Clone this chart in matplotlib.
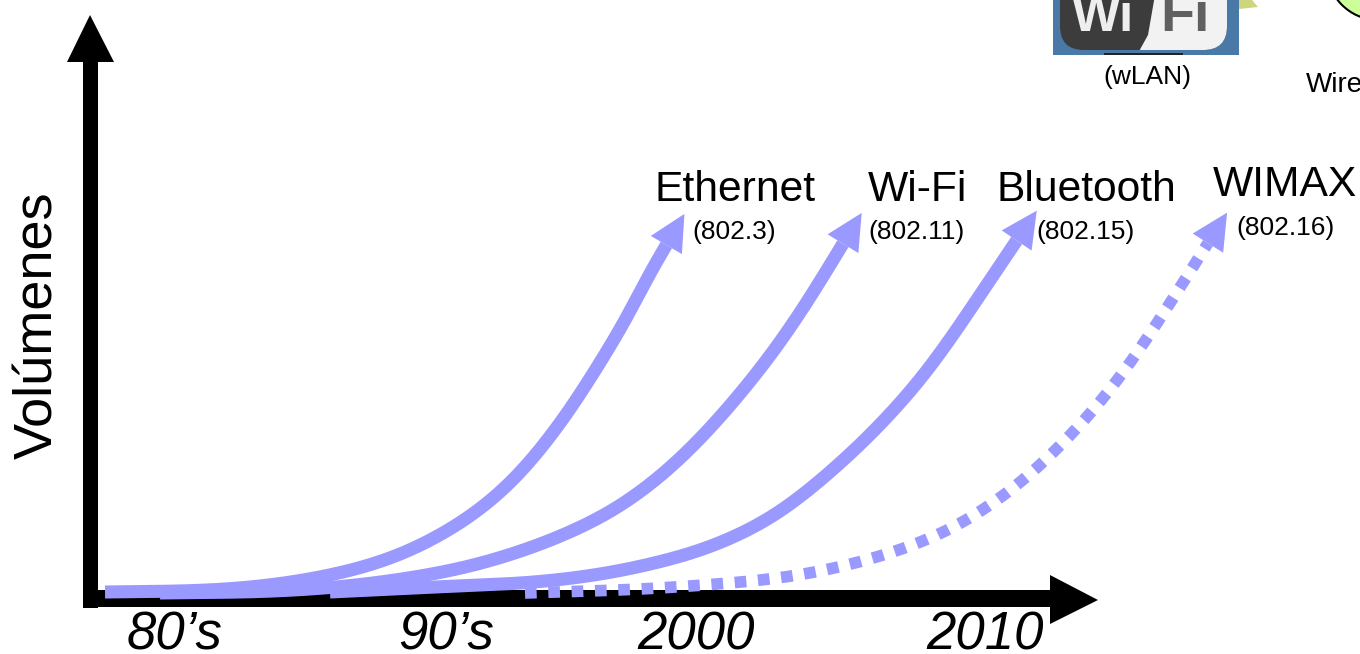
import numpy as np
import matplotlib
matplotlib.use('Agg')
import matplotlib.pyplot as plt
from matplotlib.patches import Polygon, Rectangle, FancyBboxPatch, Ellipse

plt.rcParams['font.family'] = ['Liberation Sans', 'DejaVu Sans']

# curves, in picture pixels
ethernet_x = [105, 200, 260, 320, 367, 400, 433, 467, 497, 527, 567, 600, 628, 653, 667]
ethernet_y = [592, 591, 587, 578, 567, 556, 540, 520, 497, 467, 415, 363, 317, 265, 244]
wifi_x = [160, 260, 333, 400, 467, 533, 583, 613, 647, 680, 707, 733, 773, 807, 844]
wifi_y = [593, 592, 588, 580, 568, 548, 527, 512, 488, 460, 432, 403, 353, 303, 242]
bluetooth_x = [330, 433, 533, 600, 640, 700, 733, 767, 800, 833, 870, 917, 950, 990, 1017]
bluetooth_y = [592, 587, 583, 575, 567, 552, 538, 522, 498, 470, 436, 385, 340, 280, 240]
wimax_x = [525, 624, 648, 720, 768, 815, 862, 908, 952, 992, 1031, 1048, 1082, 1113, 1141, 1167, 1193, 1208]
wimax_y = [593, 590, 589, 584, 580, 573, 562, 548, 530, 505, 475, 458, 424, 387, 348, 308, 267, 243]

era_labels = ["80’s", "90’s", "2000", "2010"]
era_x = [175, 446, 696, 985]
tech_labels = ['Ethernet', 'Wi-Fi', 'Bluetooth', 'WIMAX']
tech_x = [735, 917, 1086, 1285]
tech_y = [190, 190, 190, 185]
std_labels = ['(802.3)', '(802.11)', '(802.15)', '(802.16)']
std_x = [734, 917, 1086, 1285]
std_y = [232, 232, 232, 228]

CURVE = '#9999ff'


def smooth(xs, ys, step=2.0, sigma=30.0):
    # run a gaussian along the read polyline so it draws without kinks, ends stay put
    xs, ys = np.asarray(xs, float), np.asarray(ys, float)
    s = np.r_[0, np.cumsum(np.hypot(np.diff(xs), np.diff(ys)))]
    t = np.arange(0, s[-1], step)
    out = []
    half = int(3 * sigma / step)
    kernel = np.exp(-0.5 * (np.arange(-half, half + 1) * step / sigma) ** 2)
    kernel /= kernel.sum()
    for v in (xs, ys):
        line = np.interp(t, s, v)
        pad = np.r_[2 * line[0] - line[half:0:-1], line, 2 * line[-1] - line[-2:-half - 2:-1]]
        out.append(np.convolve(pad, kernel, mode='valid'))
    return np.column_stack(out)


def head(ax, xs, ys, length=36, width=36):
    # triangle continuing the end of the curve
    base = np.array([xs[-1], ys[-1]], float)
    d = base - np.array([xs[-8], ys[-8]], float)
    d /= np.hypot(*d)
    n = np.array([-d[1], d[0]])
    ax.add_patch(Polygon([base + d * length, base + n * width / 2, base - n * width / 2],
                         closed=True, color=CURVE, lw=0, zorder=4))


fig = plt.figure(figsize=(13.6, 6.54), dpi=100)
ax = fig.add_axes([0, 0, 1, 1])
ax.set_xlim(0, 1360)
ax.set_ylim(654, 0)
ax.axis('off')

# axes arrows
ax.add_patch(Rectangle((83, 60), 15, 548, color='black', lw=0, zorder=2))
ax.add_patch(Polygon([(90, 15), (67, 62), (114, 62)], color='black', lw=0, zorder=2))
ax.add_patch(Rectangle((83, 590), 967, 17, color='black', lw=0, zorder=2))
ax.add_patch(Polygon([(1098, 600), (1050, 575), (1050, 624)], color='black', lw=0, zorder=2))

for xs, ys in [(ethernet_x, ethernet_y), (wifi_x, wifi_y), (bluetooth_x, bluetooth_y)]:
    pts = smooth(xs, ys)
    ax.plot(pts[:, 0], pts[:, 1], color=CURVE, lw=9.4, solid_capstyle='butt', zorder=3)
    head(ax, pts[:, 0], pts[:, 1])
pts = smooth(wimax_x, wimax_y)
ax.plot(pts[:, 0], pts[:, 1], color=CURVE, lw=8.4, dashes=(1, 1), dash_capstyle='butt', zorder=3)
head(ax, pts[:, 0], pts[:, 1])

ax.text(38, 325, 'Volúmenes', fontsize=39, rotation=90, ha='center', va='center')
for x, s in zip(era_x, era_labels):
    ax.text(x, 635, s, fontsize=38, style='italic', ha='center', va='center')
for x, y, s in zip(tech_x, tech_y, tech_labels):
    ax.text(x, y, s, fontsize=30.7, ha='center', va='center')
for x, y, s in zip(std_x, std_y, std_labels):
    ax.text(x, y, s, fontsize=19, ha='center', va='center')

# cropped slide pieces at the top right
ax.add_patch(Rectangle((1053, -5), 186, 60, color='#4a79a8', lw=0))
ax.add_patch(FancyBboxPatch((1060, -40), 167, 90, boxstyle='round,pad=0,rounding_size=24',
                            fc='#3c3c3c', ec='none'))
white = FancyBboxPatch((1060, -40), 167, 90, boxstyle='round,pad=0,rounding_size=24',
                       fc='#f2f2f2', ec='none')
ax.add_patch(white)
white.set_clip_path(Polygon([(1137, 55), (1148, 35), (1155, -5), (1240, -5), (1240, 55)],
                            transform=ax.transData))
ax.text(1103, 31, 'Wi', fontsize=37, weight='bold', color='#eeeeee', ha='center', va='baseline')
ax.text(1185, 31, 'Fi', fontsize=40, weight='bold', color='#606060', ha='center', va='baseline')
ax.add_patch(Rectangle((1104, 53), 79, 2, color='#222222', lw=0))
ax.add_patch(Polygon([(1239, 0), (1252, 0), (1258, 7), (1239, 9)], color='#cdd67c', lw=0))
ax.add_patch(Ellipse((1378, -34), 104, 108, fc='#ccff99', ec='black', lw=1.5))
ax.text(1147, 77, '(wLAN)', fontsize=19, ha='center', va='center')
ax.text(1306, 85, 'Wire', fontsize=20, ha='left', va='center')

fig.savefig('out.png', dpi=100)
